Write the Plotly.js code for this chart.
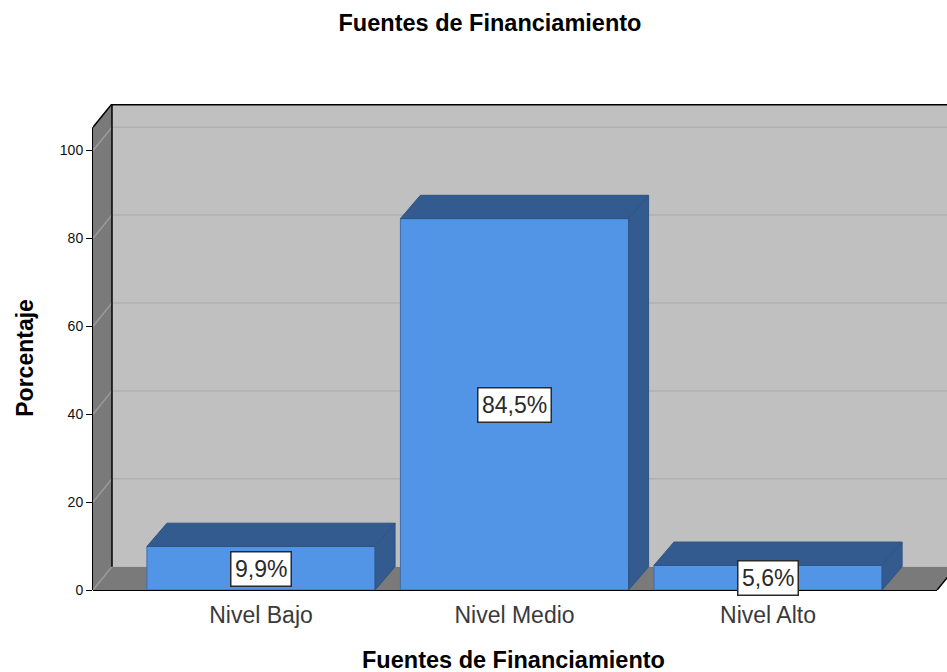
<!DOCTYPE html>
<html>
<head>
<meta charset="utf-8">
<script src="https://cdn.plot.ly/plotly-3.0.1.min.js"></script>
<style>html,body{margin:0;padding:0;background:#fff;overflow:hidden}</style>
</head>
<body>
<div id="chart" style="width:947px;height:672px"></div>
<script>
var categories = ['Nivel Bajo', 'Nivel Medio', 'Nivel Alto'];
var percentages = [9.9, 84.5, 5.6];
var valueLabels = ['9,9%', '84,5%', '5,6%'];
var yTicks = [0, 20, 40, 60, 80, 100];

var FONT = '"Liberation Sans", Arial, sans-serif';
var C = {wall:'#c0c0c0', side:'#7a7a7a', front:'#5294e6', dark:'#335b8f', edge:'#3f6ea8',
         grid:'#b0b0b0', sideGrid:'#9a9a9a'};

// Depth of the pseudo-3D box and bars, in axis units
var wallDx = 0.0749, barDx = 0.0789, dy = 5.3;
var xMin = -0.6627, xMax = 2.706, yMax = 110.57;
var yTop = 105.3, xFloorEnd = 2.667;
var barW = 0.9;

function poly(xs, ys, fill) {
  var p = 'M' + xs.map(function (x, i) { return x + ',' + ys[i]; }).join('L') + 'Z';
  return {type:'path', path:p, xref:'x', yref:'y', fillcolor:fill, line:{width:0}, layer:'below'};
}
function seg(x0, y0, x1, y1, color, w, xref, yref) {
  return {type:'line', x0:x0, y0:y0, x1:x1, y1:y1, xref:xref||'x', yref:yref||'y',
          line:{color:color, width:w}, layer:'below'};
}

var shapes = [
  poly([xMin+wallDx, xMax+wallDx, xMax+wallDx, xMin+wallDx], [dy, dy, yTop+dy, yTop+dy], C.wall),
  poly([xMin, xMin+wallDx, xMin+wallDx, xMin], [0, dy, yTop+dy, yTop], C.side),
  poly([xMin, xFloorEnd, xFloorEnd+wallDx, xMin+wallDx], [0, 0, dy, dy], C.side)
];
yTicks.forEach(function (t) {
  shapes.push(seg(xMin, t, xMin+wallDx, t+dy, C.sideGrid, 1.5));
  if (t > 0) shapes.push(seg(xMin+wallDx, t+dy, xMax, t+dy, C.grid, 1.5));
});
shapes.push(seg(xMin+wallDx, yTop+dy-0.2, xMax, yTop+dy-0.2, '#000', 1.5));
shapes.push(seg(xMin+wallDx, dy, xMin+wallDx, yTop+dy, '#000', 1.5));
shapes.push(seg(xMin, yTop, xMin+wallDx, yTop+dy, '#000', 1.5));
shapes.push(seg(0, 0, 0, yTop, '#000', 2, 'paper', 'y'));
shapes.push(seg(xMin, 0, xFloorEnd, 0, '#000', 2, 'x', 'paper'));
shapes.push(seg(xFloorEnd, 0, xFloorEnd+wallDx, dy, '#000', 1.5));

var traces = [{
  type:'bar', x:[0,1,2], y:percentages, width:barW,
  marker:{color:C.front, line:{color:C.edge, width:1}}, hoverinfo:'skip', showlegend:false
}];
percentages.forEach(function (v, i) {
  var l = i - barW/2, r = i + barW/2;
  traces.push({type:'scatter', mode:'lines', x:[l, l+barDx, r+barDx, r, l], y:[v, v+dy, v+dy, v, v],
    fill:'toself', fillcolor:C.dark, line:{color:'#2f5484', width:1}, hoverinfo:'skip', showlegend:false});
  traces.push({type:'scatter', mode:'lines', x:[r, r+barDx, r+barDx, r, r], y:[v, v+dy, dy, 0, v],
    fill:'toself', fillcolor:C.dark, line:{color:'#2f5484', width:1}, hoverinfo:'skip', showlegend:false});
});

var annotations = percentages.map(function (v, i) {
  return {x:i + 0.001, y:v/2 - 0.15, xref:'x', yref:'y', text:valueLabels[i], showarrow:false,
    font:{family:FONT, size:23, color:'#2a2a2a'}, bgcolor:'#fff', bordercolor:'#2a2a2a', borderwidth:1.5,
    borderpad:3.5, xanchor:'center', yanchor:'middle'};
});
annotations.push({xref:'paper', yref:'paper', x:(513.5-93)/854, y:(590.5-660.5)/486.5, xanchor:'center', yanchor:'middle',
  text:'<b>Fuentes de Financiamiento</b>', showarrow:false, font:{family:FONT, size:23.5, color:'#000'}});
annotations.push({xref:'paper', yref:'paper', x:(25-93)/854, y:(590.5-358)/486.5, xanchor:'center', yanchor:'middle',
  textangle:-90, text:'<b>Porcentaje</b>', showarrow:false, font:{family:FONT, size:23, color:'#000'}});

Plotly.newPlot('chart', traces, {
  width:947, height:672,
  margin:{l:93, r:0, t:104, b:81.5, pad:0},
  paper_bgcolor:'#fff', plot_bgcolor:'rgba(0,0,0,0)',
  showlegend:false, bargap:0,
  title:{text:'<b>Fuentes de Financiamiento</b>', x:490/947, xanchor:'center', y:1-23/672, yanchor:'middle',
    font:{family:FONT, size:23.5, color:'#000'}},
  xaxis:{type:'linear', range:[xMin, xMax], tickmode:'array', tickvals:[0,1,2], ticktext:categories,
    showgrid:false, zeroline:false, showline:false, ticks:'outside', ticklen:4, tickcolor:'rgba(0,0,0,0)', automargin:false,
    tickfont:{family:FONT, size:23, color:'#3a3a3a'}},
  yaxis:{range:[0, yMax], tickmode:'array', tickvals:yTicks, showgrid:false, zeroline:false, showline:false,
    ticks:'outside', ticklen:6, tickwidth:1, tickcolor:'#000', automargin:false,
    tickfont:{family:FONT, size:14, color:'#111'}},
  shapes:shapes, annotations:annotations
}, {displayModeBar:false, staticPlot:true});
</script>
</body>
</html>
